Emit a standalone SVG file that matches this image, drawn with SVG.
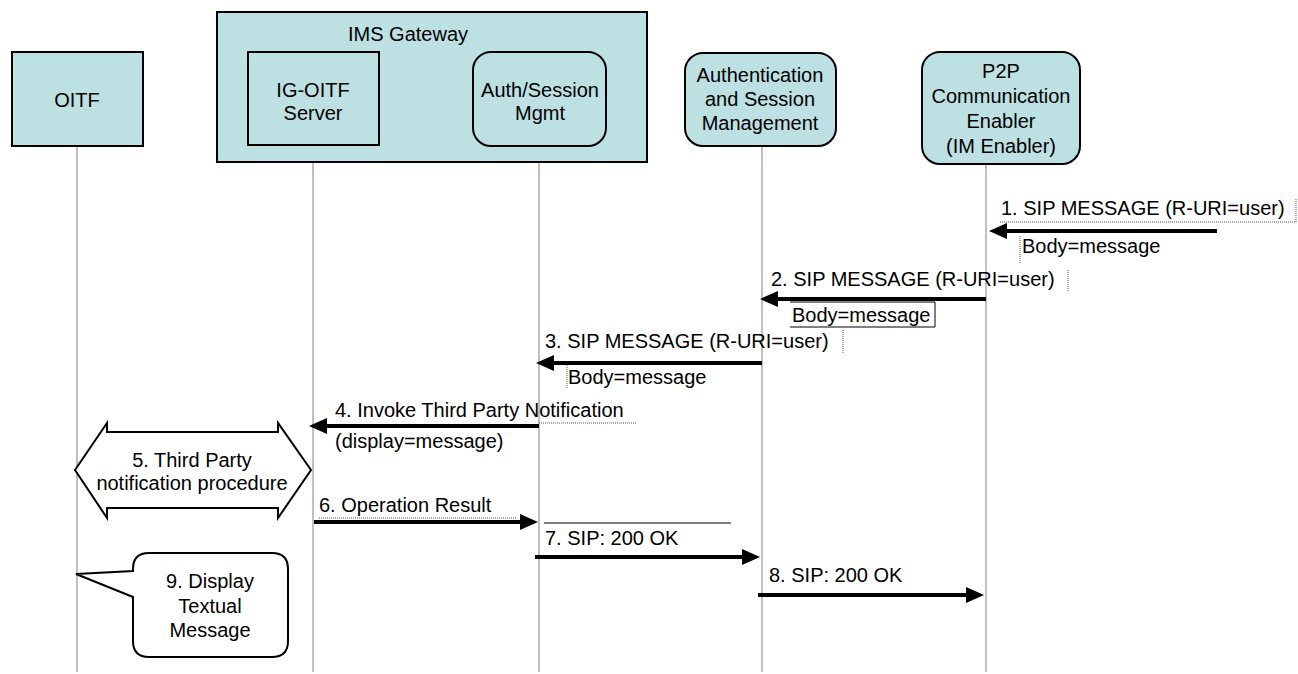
<svg xmlns="http://www.w3.org/2000/svg" width="1298" height="674" viewBox="0 0 1298 674">
<style>
  text { font-family: "Liberation Sans", Arial, sans-serif; font-size: 20px; fill: #000; }
  .c { text-anchor: middle; }
  .box { fill: #bde0e3; stroke: #000; stroke-width: 2; }
  .life { stroke: #c0c0c0; stroke-width: 2; fill: none; }
  .msg { stroke: #000; stroke-width: 4; fill: none; marker-end: url(#ah); }
  .dot { stroke: #555; stroke-width: 1; stroke-dasharray: 1 1; fill: none; }
  .thin { stroke: #000; stroke-width: 1; fill: none; }
  .shape { fill: #fff; stroke: #000; stroke-width: 2; }
</style>
<defs>
  <marker id="ah" markerUnits="userSpaceOnUse" markerWidth="18" markerHeight="16" refX="7" refY="8" orient="auto">
    <path d="M0,0 L18,8 L0,16 Z" fill="#000"/>
  </marker>
</defs>
<rect width="1298" height="674" fill="#fff"/>

<g id="lifelines">
  <line class="life" x1="77" y1="146" x2="77" y2="672"/>
  <line class="life" x1="313" y1="146" x2="313" y2="672"/>
  <line class="life" x1="539" y1="146" x2="539" y2="672"/>
  <line class="life" x1="762" y1="146" x2="762" y2="672"/>
  <line class="life" x1="986" y1="164" x2="986" y2="672"/>
</g>

<g id="ims-gateway">
  <rect class="box" x="217" y="12" width="430" height="150"/>
  <text class="c" x="408" y="41">IMS Gateway</text>
</g>

<g id="oitf">
  <rect class="box" x="12" y="52" width="131" height="94"/>
  <text class="c" x="77" y="107">OITF</text>
</g>

<g id="ig-oitf-server">
  <rect class="box" x="248" y="52" width="131" height="93"/>
  <text class="c" x="313" y="97">IG-OITF</text>
  <text class="c" x="313" y="120">Server</text>
</g>

<g id="auth-session-mgmt">
  <rect class="box" x="473" y="52" width="133" height="94" rx="18"/>
  <text class="c" x="540" y="97">Auth/Session</text>
  <text class="c" x="540" y="120">Mgmt</text>
</g>

<g id="authentication-session-management">
  <rect class="box" x="685" y="53" width="151" height="93" rx="18"/>
  <text class="c" x="760" y="82">Authentication</text>
  <text class="c" x="760" y="106">and Session</text>
  <text class="c" x="760" y="130">Management</text>
</g>

<g id="p2p-enabler">
  <rect class="box" x="922" y="52" width="158" height="112" rx="18"/>
  <text class="c" x="1001" y="78">P2P</text>
  <text class="c" x="1001" y="103">Communication</text>
  <text class="c" x="1001" y="128">Enabler</text>
  <text class="c" x="1001" y="153">(IM Enabler)</text>
</g>

<g id="connectors">
  <line class="msg" x1="1217" y1="231" x2="1000" y2="231"/>
  <line class="msg" x1="986" y1="299" x2="771" y2="299"/>
  <line class="msg" x1="762" y1="363" x2="547" y2="363"/>
  <line class="msg" x1="539" y1="426" x2="320" y2="426"/>
  <line class="msg" x1="314" y1="522" x2="527" y2="522"/>
  <line class="msg" x1="535" y1="557" x2="749" y2="557"/>
  <line class="msg" x1="758" y1="595" x2="973" y2="595"/>
</g>

<g id="labels">
  <text x="1001" y="215">1. SIP MESSAGE (R-URI=user)</text>
  <line class="dot" x1="1000" y1="222" x2="1296" y2="222"/>
  <line class="dot" x1="1296" y1="199" x2="1296" y2="222"/>
  <text x="1022" y="253">Body=message</text>
  <line class="dot" x1="1020" y1="236" x2="1020" y2="263"/>

  <text x="771" y="286">2. SIP MESSAGE (R-URI=user)</text>
  <line class="dot" x1="1068" y1="270" x2="1068" y2="292"/>
  <text x="792" y="322">Body=message</text>
  <path class="thin" d="M790,302 H935 V327 H790"/>

  <text x="545" y="348">3. SIP MESSAGE (R-URI=user)</text>
  <line class="dot" x1="843" y1="330" x2="843" y2="353"/>
  <text x="568" y="384">Body=message</text>
  <line class="dot" x1="567" y1="365" x2="567" y2="389"/>

  <text x="335" y="417">4. Invoke Third Party Notification</text>
  <line class="dot" x1="539" y1="423" x2="637" y2="423"/>
  <text x="335" y="448">(display=message)</text>

  <text x="319" y="512">6. Operation Result</text>
  <line class="dot" x1="319" y1="518" x2="517" y2="518"/>

  <line class="thin" x1="544" y1="523" x2="731" y2="523"/>
  <text x="545" y="545">7. SIP: 200 OK</text>

  <text x="769" y="582">8. SIP: 200 OK</text>
</g>

<g id="third-party-procedure">
  <path class="shape" d="M75,470 L107,423 L107,432 L278,432 L278,423 L311,470 L278,518 L278,508 L107,508 L107,518 Z"/>
  <text class="c" x="192" y="467">5. Third Party</text>
  <text class="c" x="192" y="490">notification procedure</text>
</g>

<g id="display-callout">
  <path class="shape" d="M149,553 H272 Q288,553 288,569 V641 Q288,657 272,657 H149 Q133,657 133,641 V597 L76,574 L133,571 V569 Q133,553 149,553 Z"/>
  <text class="c" x="210" y="588">9. Display</text>
  <text class="c" x="210" y="613">Textual</text>
  <text class="c" x="210" y="637">Message</text>
</g>
</svg>
